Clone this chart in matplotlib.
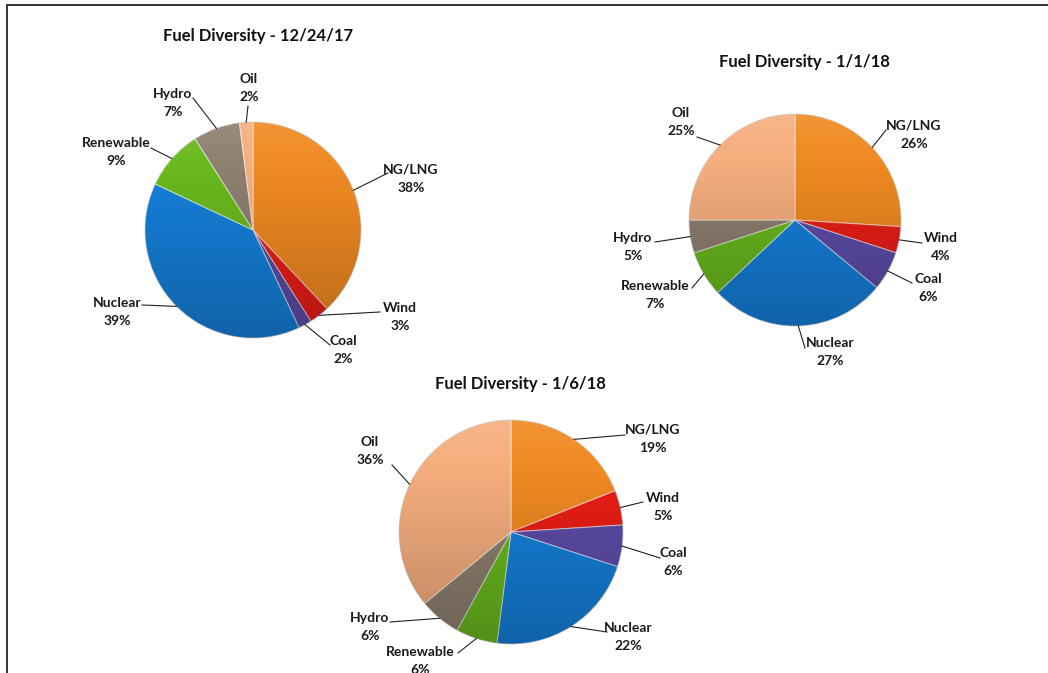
import numpy as np
import matplotlib
matplotlib.use("Agg")
import matplotlib.pyplot as plt
from matplotlib.patches import Circle

W, H = 1048, 673

fuels = ["NG/LNG", "Wind", "Coal", "Nuclear", "Renewable", "Hydro", "Oil"]
share_1224 = [38, 3, 2, 39, 9, 7, 2]
share_0101 = [26, 4, 6, 27, 7, 5, 25]
share_0106 = [19, 5, 6, 22, 6, 6, 36]
titles = ["Fuel Diversity - 12/24/17", "Fuel Diversity - 1/1/18", "Fuel Diversity - 1/6/18"]

colors = ["#F08A22", "#EA1E16", "#5E4CA8", "#1580DA", "#6AB91E", "#8E8070", "#F6AE7E"]

# layout in pixel units (y measured from the top)
pies = [
    dict(values=share_1224, center=(253, 230), radius=108, title_xy=(258, 36),
         labels=[(411, 179), (400, 317), (343, 350), (117, 312), (116, 152), (173, 103), (249, 88)],
         ends=[(388, 173), (380, 312), (330, 345), (142, 305), (151, 148), (193, 98), (248, 106)]),
    dict(values=share_0101, center=(795, 220), radius=106, title_xy=(804, 62),
         labels=[(914, 135), (941, 247), (928, 288), (830, 352), (655, 295), (633, 247), (681, 122)],
         ends=[(886, 130), (922, 243), (912, 283), (805, 348), (692, 288), (655, 242), (697, 137)]),
    dict(values=share_0106, center=(511, 532), radius=112, title_xy=(520, 384),
         labels=[(653, 439), (663, 507), (673, 562), (628, 637), (420, 661), (370, 627), (370, 451)],
         ends=[(625, 435), (643, 502), (660, 558), (607, 632), (458, 653), (390, 622), (392, 465)]),
]

plt.rcParams["font.family"] = ["Lato", "DejaVu Sans"]

fig = plt.figure(figsize=(W / 100, H / 100), dpi=100)
ax = fig.add_axes([0, 0, 1, 1])
ax.set_axis_off()


def fy(y):
    return H - y


# shading overlay: a touch lighter at the top, darker toward the bottom
n = 256
t = np.linspace(0, 1, n)
shade = np.zeros((n, 1, 4))
shade[:, 0, :3] = np.where(t[:, None] < 0.2, 1.0, 0.0)
shade[:, 0, 3] = np.where(t < 0.2, (0.2 - t) * 0.5, (t - 0.2) * 0.28)

for p, title in zip(pies, titles):
    cx, cy = p["center"][0], fy(p["center"][1])
    r = p["radius"]
    wedges, _ = ax.pie(p["values"], colors=colors, startangle=90, counterclock=False,
                       center=(cx, cy), radius=r, frame=True,
                       wedgeprops=dict(edgecolor=(1, 1, 1, 0.5), linewidth=0.8))
    img = ax.imshow(shade, extent=(cx - r, cx + r, cy - r, cy + r), origin="upper",
                    aspect="auto", zorder=3, interpolation="bilinear")
    img.set_clip_path(Circle((cx, cy), r, transform=ax.transData))
    ax.add_patch(Circle((cx, cy), r, fill=False, edgecolor=(0, 0, 0, 0.12), lw=0.8, zorder=4))

    ax.text(p["title_xy"][0], fy(p["title_xy"][1]), title,
            ha="center", va="center", fontsize=12, fontweight="bold", color="#111111")

    total = sum(p["values"])
    start = 90.0
    for name, v, (lx, ly), (ex, ey) in zip(fuels, p["values"], p["labels"], p["ends"]):
        mid = np.deg2rad(start - 180.0 * v / total)
        start -= 360.0 * v / total
        edge = (cx + r * np.cos(mid), cy + r * np.sin(mid))
        ax.plot([edge[0], ex], [edge[1], fy(ey)], color="#222222", lw=0.8, zorder=5)
        ax.text(lx, fy(ly), f"{name}\n{round(100 * v / total)}%", ha="center", va="center",
                fontsize=10, fontweight="bold", color="#1a1a1a", linespacing=1.65, zorder=6)

ax.set_xlim(0, W)
ax.set_ylim(0, H)
ax.set_aspect("auto")

# frame lines along the top and left edges
ax.plot([7, W], [fy(5), fy(5)], color="#333333", lw=1.4, clip_on=False)
ax.plot([7, 7], [fy(5), 0], color="#333333", lw=1.4, clip_on=False)

fig.savefig("out.png", dpi=100, facecolor="white")
